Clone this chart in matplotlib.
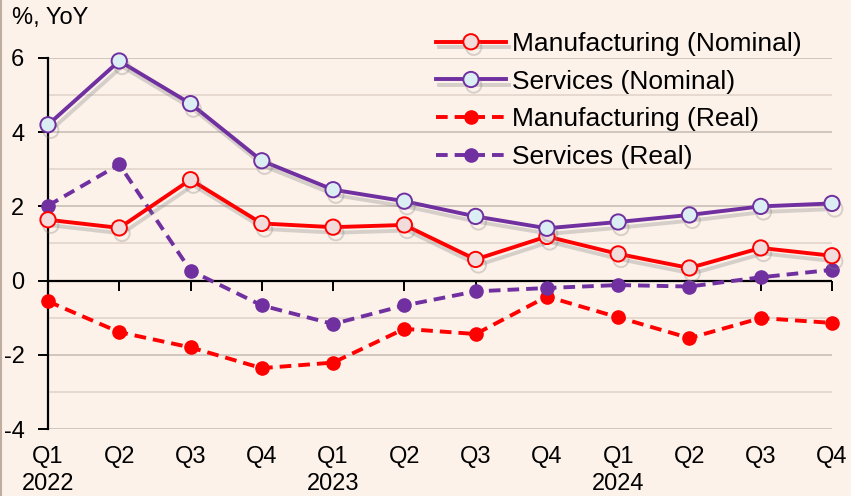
import matplotlib
matplotlib.use("Agg")
import matplotlib.pyplot as plt
import matplotlib.patheffects as pe
from matplotlib.lines import Line2D

quarters = ["Q1\n2022", "Q2", "Q3", "Q4", "Q1\n2023", "Q2", "Q3", "Q4",
            "Q1\n2024", "Q2", "Q3", "Q4"]
manuf_nominal = [1.64, 1.42, 2.72, 1.54, 1.44, 1.50, 0.57, 1.19, 0.72, 0.34, 0.88, 0.67]
serv_nominal = [4.20, 5.92, 4.77, 3.23, 2.45, 2.14, 1.73, 1.41, 1.58, 1.77, 2.00, 2.08]
manuf_real = [-0.56, -1.39, -1.80, -2.36, -2.21, -1.30, -1.44, -0.43, -0.99, -1.55, -1.01, -1.14]
serv_real = [2.02, 3.13, 0.27, -0.67, -1.17, -0.67, -0.29, -0.20, -0.12, -0.16, 0.09, 0.29]

bg = "#FDF2EA"
red = "#FF0000"
purple = "#7030A0"

plt.rcParams["font.family"] = ["Liberation Sans", "DejaVu Sans"]
plt.rcParams["font.size"] = 17
plt.rcParams["axes.unicode_minus"] = False

fig = plt.figure(figsize=(8.51, 4.96), dpi=100, facecolor=bg)
ax = fig.add_axes([48 / 851, 1 - 429 / 496, (832 - 48) / 851, (429 - 58) / 496])
ax.set_facecolor(bg)
x = list(range(len(quarters)))

# horizontal grid: darker at even values, lighter at odd values
for v in range(-4, 7):
    ax.axhline(v, color="#CEC3BA" if v % 2 == 0 else "#E4D8CE", lw=1.3, zorder=0)
ax.axhline(0, color="black", lw=1.6, zorder=1)

shadow = [pe.SimpleLineShadow(offset=(2, -4), shadow_color="#7F7F7F", alpha=0.3), pe.Normal()]

ax.plot(x, manuf_nominal, color=red, lw=2.8, marker="o", ms=11, mfc="#F2DCDB",
        mec=red, mew=1.4, clip_on=False, zorder=4, path_effects=shadow,
        label="Manufacturing (Nominal)")
ax.plot(x, serv_nominal, color=purple, lw=2.8, marker="o", ms=11, mfc="#DAEEF3",
        mec=purple, mew=1.4, clip_on=False, zorder=5, path_effects=shadow,
        label="Services (Nominal)")
ax.plot(x, manuf_real, color=red, lw=2.8, ls=(0, (3.0, 1.8)), marker="o", ms=9.5,
        mfc=red, mec=red, clip_on=False, zorder=3, label="Manufacturing (Real)")
ax.plot(x, serv_real, color=purple, lw=2.8, ls=(0, (3.0, 1.8)), marker="o", ms=9.5,
        mfc=purple, mec=purple, clip_on=False, zorder=3, label="Services (Real)")

ax.set_xlim(0, len(quarters) - 1)
ax.set_ylim(-4, 6)
ax.set_yticks(range(-4, 7, 2))
ax.tick_params(axis="y", direction="out", length=7, width=1.4, pad=10)

# x ticks sit on the zero line, labels below the plot
ax.spines["bottom"].set_position(("data", 0))
ax.spines["bottom"].set_visible(False)
ax.set_xticks(x)
ax.tick_params(axis="x", direction="out", length=7, width=1.4, labelbottom=False)
for s in ["top", "right"]:
    ax.spines[s].set_visible(False)
ax.spines["left"].set_linewidth(1.6)

sec = ax.secondary_xaxis(0.0)
sec.set_xticks(x)
sec.set_xticklabels(quarters, linespacing=1.3, va="top")
sec.tick_params(length=0, pad=12)
sec.spines["bottom"].set_visible(False)

fig.text(12 / 851, 1 - 18 / 496, "%, YoY", ha="left", va="center")

ax.legend(loc="upper left", bbox_to_anchor=(436 / 851, 1 - 32 / 496),
          bbox_transform=fig.transFigure, frameon=False, numpoints=1,
          fontsize=19, handlelength=2.65, handletextpad=0.23, labelspacing=0.52,
          borderaxespad=0, borderpad=0)

fig.add_artist(Line2D([0.001, 0.001], [0, 1], transform=fig.transFigure,
                      color="#BFAE9F", lw=1.5))

fig.savefig("out.png", dpi=100, facecolor=bg)
